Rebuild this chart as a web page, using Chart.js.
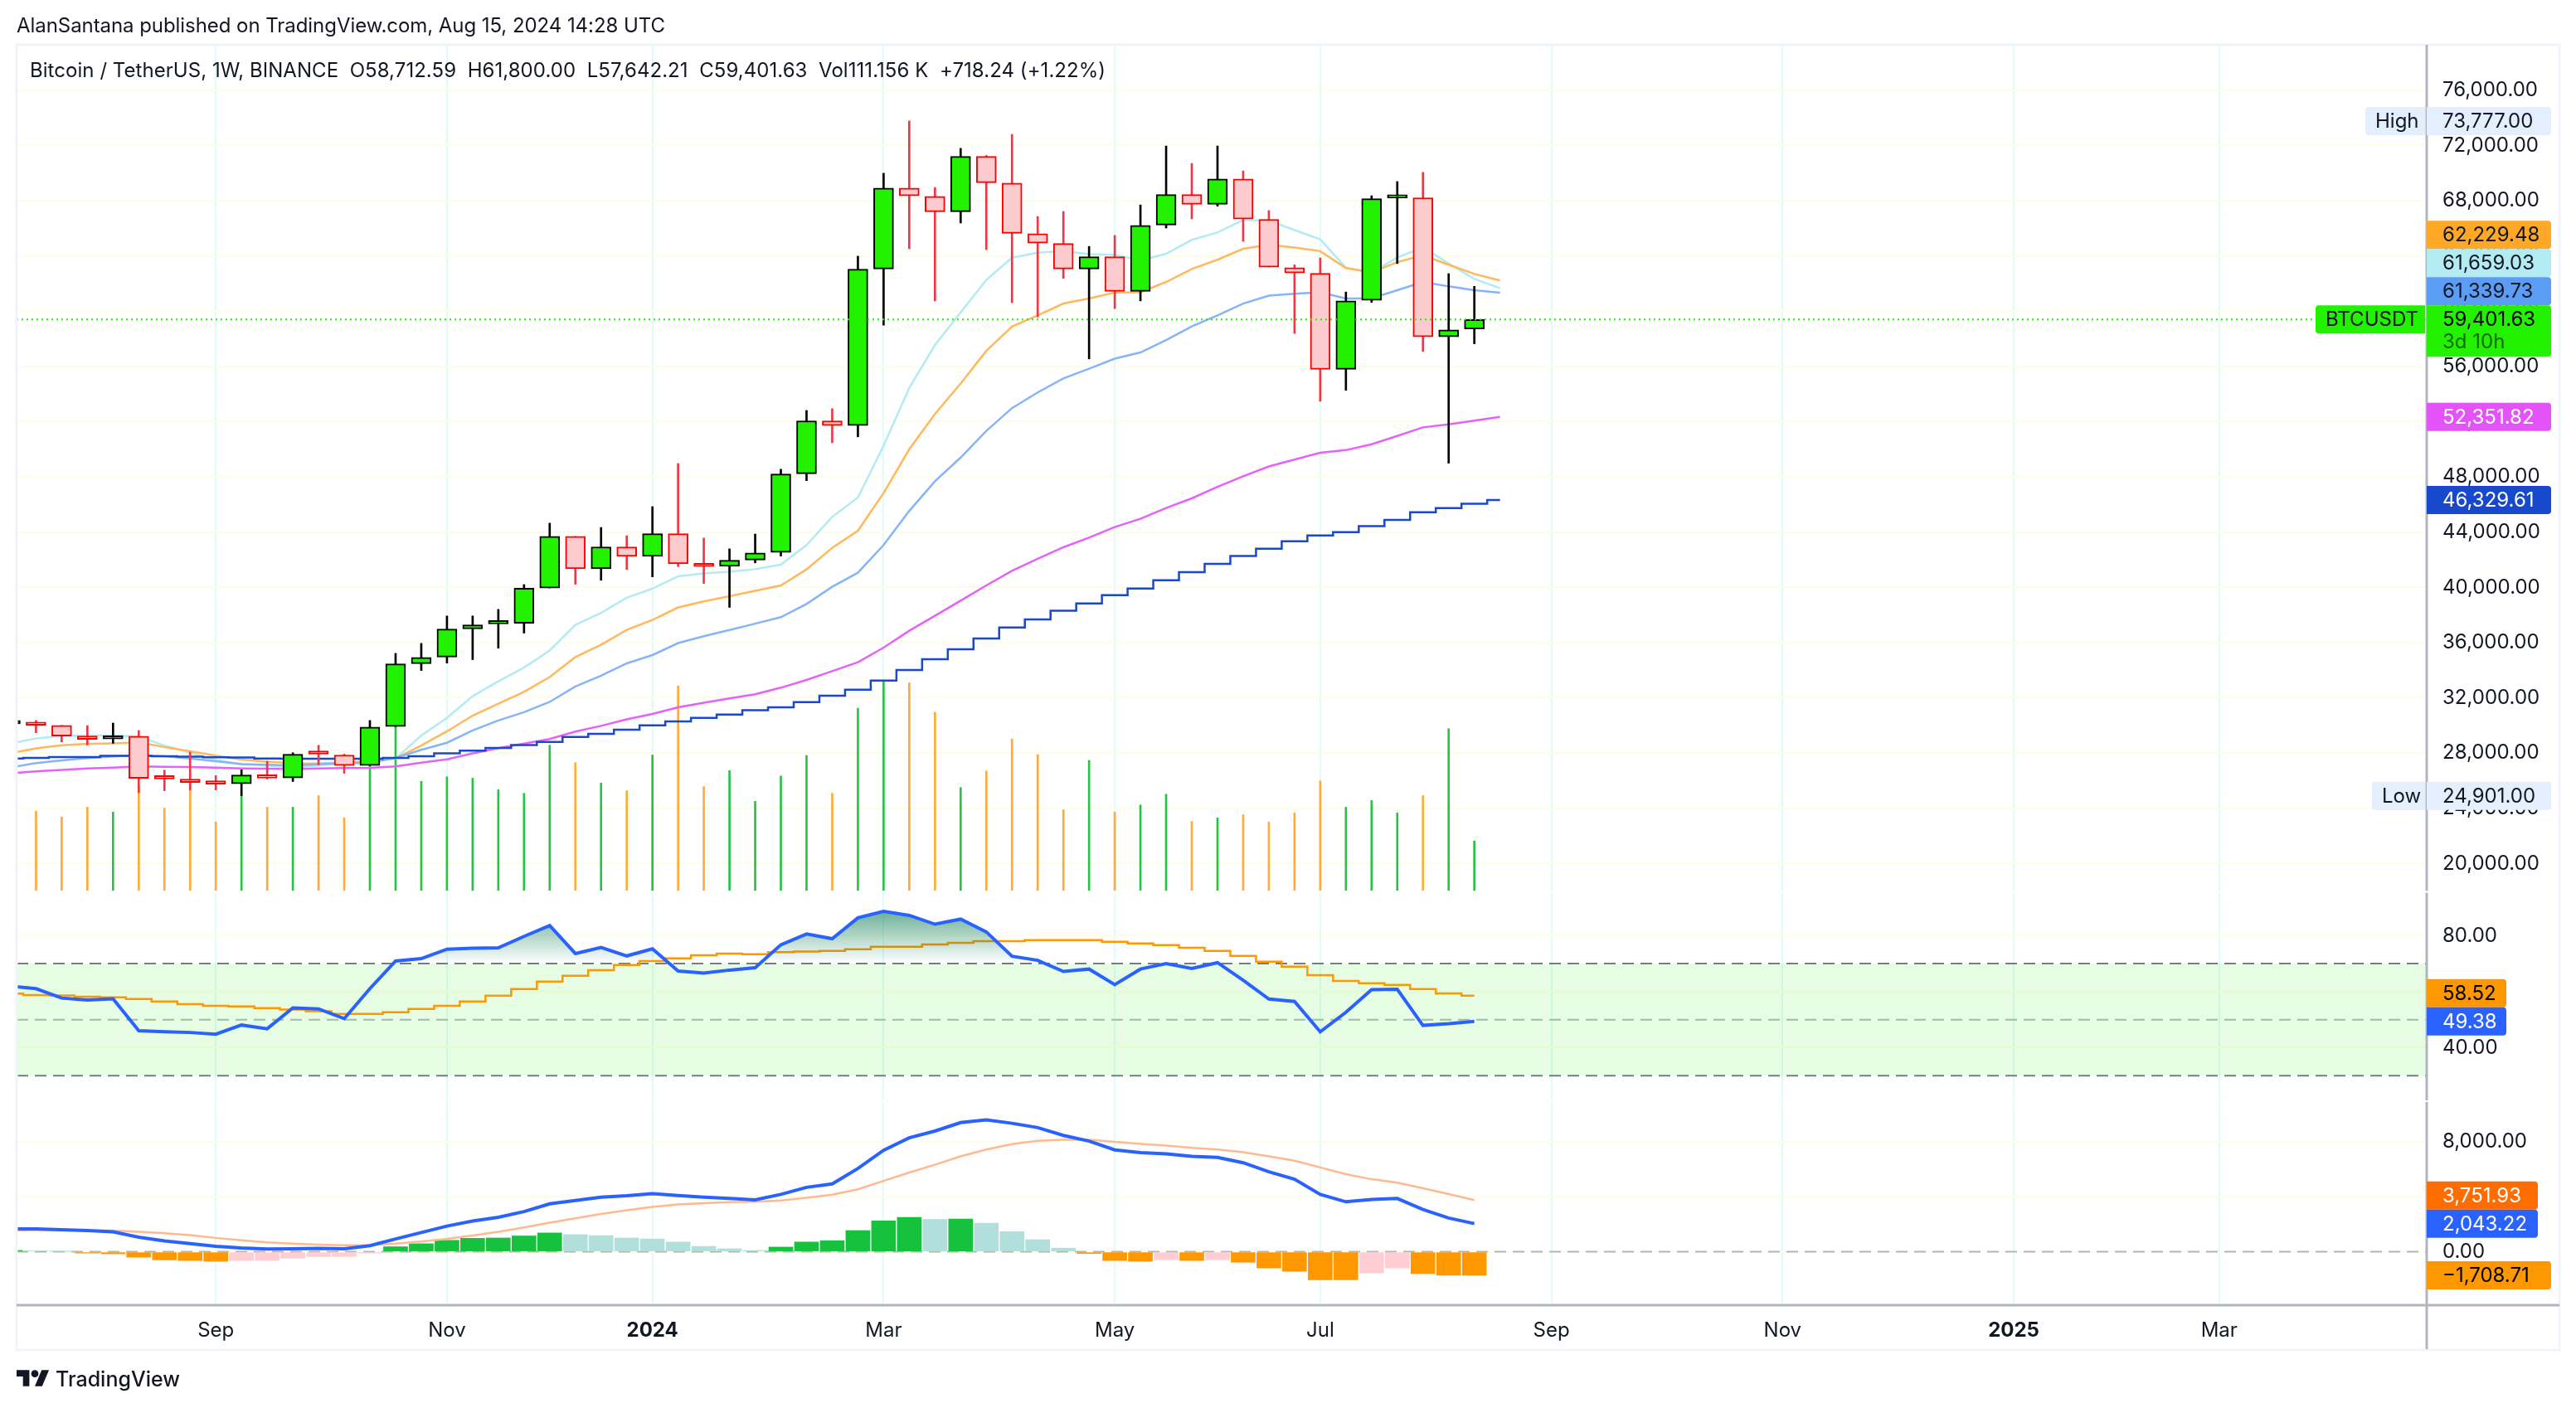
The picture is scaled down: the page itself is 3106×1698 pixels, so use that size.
<!DOCTYPE html>
<html>
<head>
<meta charset="utf-8">
<title>BTCUSDT 1W</title>
<script src="https://cdn.jsdelivr.net/npm/chart.js@4/dist/chart.umd.min.js"></script>
<style>
html, body { margin: 0; padding: 0; background: #ffffff; }
canvas { display: block; }
</style>
</head>
<body>
<canvas id="graph" width="3106" height="1698"></canvas>
<script>
// weekly candles, the first one starts Jul 10 2023 and is cut off by the left edge
var opens = [30120,30150,29999,29199,29013,29220,26180,26035,25910,25766,26407,26200,28000,27855,27090,29923,34472,34948,36995,37350,37388,39953,43696,41338,42930,42248,43882,41690,41524,41979,42537,48220,52060,51717,63063,68919,68319,67203,71214,69284,65616,64908,63063,63943,61433,66238,68447,67740,69584,66645,63149,62741,55791,60790,68190,68212,58151,58712.59];
var highs = [30400,30357,30000,29985,30171,29633,26759,28062,26365,26779,27400,28020,28558,27917,30357,35217,35941,37926,37926,38402,40200,44647,43696,44337,43737,45846,48969,43571,42786,43861,48555,52811,52939,63986,69992,73777,68962,71794,71279,72802,66860,67225,64694,65487,67697,71965,70700,71965,70163,67289,63364,63857,61390,68361,69391,70056,62720,61800];
var lows = [30000,29468,28806,28579,28703,25125,25270,25332,25332,24901,26118,25933,27131,26531,27090,29923,33976,34514,34762,35589,36685,39953,40221,40511,41297,40759,41504,40283,38546,41772,42269,47727,50473,50901,58988,64522,60747,66388,64458,60618,59589,62377,56543,60189,60747,66023,66688,67611,65058,63192,58387,53475,54269,60640,63450,57079,48992,57642.21];
var closes = [30250,30005,29220,28992,29220,26159,26118,25869,25745,26407,26179,27917,27917,27090,29881,34452,34928,36975,37285,37430,39932,43696,41338,42930,42248,43882,41710,41504,41959,42496,48204,52060,51717,63042,68919,68362,67203,71214,69305,65638,64930,63063,63943,61433,66217,68447,67740,69584,66667,63192,62763,55791,60747,68147,68300,58151,58645,59401.63];
var volumes = [160,178,165,187,176,234,185,231,154,212,187,187,213,163,285,378,245,255,252,226,218,326,287,241,224,304,459,233,269,200,257,303,218,409,470,466,400,231,268,340,305,181,292,176,192,216,155,163,170,154,174,246,187,202,174,213,363,111.156];

// moving averages, shifted one bar to the right so they have one more point
var emaCyan = [28682,29054,29220,29261,29261,29199,28537,28020,27503,27193,27089,26945,27089,27296,27400,27607,29261,30543,32115,33190,34183,35424,37285,38153,39249,39911,40800,41007,41131,41317,41640,43062,45104,46505,50258,54441,57551,59910,62270,63879,64243,64350,64136,64093,63664,64157,65166,65702,66603,66560,65873,65208,63149,62806,63879,64629,63449,62334,61659.03];
var emaOrange = [27979,28331,28558,28662,28703,28765,28434,28123,27813,27524,27379,27255,27234,27317,27400,27607,28537,29571,30709,31577,32425,33500,34948,35837,36913,37636,38546,38980,39353,39746,40139,41300,42861,44103,46826,50000,52553,54762,57122,58881,59696,60554,60918,61347,61369,62120,63063,63728,64522,64801,64608,64350,63128,62806,63557,64050,63364,62699,62229.48];
var emaBlue = [26945,27276,27461,27627,27751,27855,27772,27607,27400,27193,27152,27089,27193,27234,27296,27648,28227,28744,29633,30357,30957,31701,32818,33604,34493,35093,35961,36457,36913,37368,37836,38797,40039,41060,43062,45539,47684,49400,51330,52982,54119,55127,55835,56565,57014,57915,58902,59696,60554,61133,61262,61369,60918,60940,61519,62120,61798,61519,61339.73];
var emaPurple = [26531,26676,26780,26883,26945,27027,27007,26986,26945,26883,26862,26841,26883,26904,26924,27027,27296,27544,27979,28351,28682,29013,29550,29964,30439,30832,31308,31639,31949,32259,32731,33292,33932,34573,35634,36855,37937,39038,40139,41200,42061,42902,43602,44363,44963,45744,46445,47276,48048,48756,49250,49743,49936,50365,50966,51588,51802,52081,52351.82];
var maNavy = [27607,27648,27710,27710,27793,27793,27772,27731,27689,27669,27607,27586,27586,27586,27586,27648,27772,27979,28165,28371,28578,28806,29158,29385,29695,30005,30295,30543,30791,31102,31310,31691,32151,32591,33252,34012,34793,35514,36295,37096,37676,38299,38838,39438,39919,40519,41100,41700,42270,42800,43329,43756,43993,44428,44890,45432,45733,46055,46329.61];

var rsiValues = [61.91,61.07,57.70,56.98,57.46,46.02,45.66,45.42,44.82,48.07,46.74,54.21,53.85,50.35,61.07,70.94,71.79,75.16,75.52,75.64,79.73,83.58,73.59,75.76,72.75,75.28,67.33,66.61,67.69,68.53,76.72,80.57,78.89,86.35,88.64,87.20,84.07,85.87,81.30,72.63,71.18,67.21,68.05,62.51,68.05,69.98,68.29,70.34,64.08,57.34,56.49,45.66,52.64,60.71,60.83,47.95,48.55,49.38];
var rsiAverage = [59.26,58.78,58.66,58.18,57.94,57.34,56.49,55.53,54.93,54.69,54.09,53.61,53.00,52.04,52.04,52.64,53.85,54.93,56.49,58.54,60.95,63.60,65.65,67.69,69.50,70.94,71.91,72.99,73.59,73.35,74.07,74.31,74.55,75.16,76.00,76.00,76.84,77.44,78.05,78.05,78.41,78.41,78.41,77.81,77.20,76.60,75.64,74.55,72.75,70.70,68.90,65.89,63.84,63.00,62.39,60.95,59.38,58.52];
var rsiLevels = [70, 50, 30];

var macdLine = [1668,1668,1595,1546,1448,1057,787,592,396,274,200,225,249,225,445,935,1399,1864,2232,2500,2916,3479,3724,3969,4066,4213,4091,3969,3871,3773,4165,4679,4923,6048,7370,8275,8765,9377,9572,9328,9010,8446,8031,7395,7199,7101,6930,6856,6465,5804,5266,4165,3627,3797,3871,3064,2452,2043.22];
var macdSignal = [1546,1571,1571,1546,1546,1448,1350,1204,1008,837,690,592,518,470,470,592,739,935,1179,1448,1766,2109,2427,2745,3014,3259,3430,3528,3602,3626,3724,3920,4140,4532,5143,5755,6318,6930,7419,7811,8055,8129,8129,7982,7835,7713,7541,7419,7223,6930,6612,6122,5633,5266,5021,4605,4189,3751.93];
var macdHist = [98,73,24,-98,-147,-392,-587,-636,-685,-636,-630,-465,-343,-340,-98,367,587,832,978,1003,1150,1370,1248,1175,1003,930,710,392,220,98,343,710,807,1542,2251,2496,2349,2374,2080,1468,881,269,-122,-636,-685,-587,-636,-587,-759,-1175,-1419,-2031,-2035,-1542,-1175,-1590,-1700,-1708.71];

var timeTickWeeks = [8, 17, 25, 34, 43, 51, 60, 69, 78, 86];
var timeTickLabels = ["Sep", "Nov", "2024", "Mar", "May", "Jul", "Sep", "Nov", "2025", "Mar"];
var priceTicks = [20000,24000,28000,32000,36000,40000,44000,48000,52000,56000,60000,64000,68000,72000,76000];
var rsiTicks = [40, 60, 80];
var macdTicks = [0, 4000, 8000];

var priceTagValues = [62229.48, 61659.03, 61339.73, 59401.63, 52351.82, 46329.61];
var rsiTagValues = [58.52, 49.38];
var macdTagValues = [3751.93, 2043.22, -1708.71];
var highValue = 73777;
var lowValue = 24901;

var FONT = "Inter, 'Noto Sans', sans-serif";
var INK = "#131722";
var X_MIN = 0.244;
var X_MAX = 94.08;

function money(v) {
    return v.toLocaleString("en-US", { minimumFractionDigits: 2, maximumFractionDigits: 2 }).replace("-", "\u2212");
}

function points(arr) {
    return arr.map(function (y, x) { return { x: x, y: y }; });
}

function flat(v) {
    return [{ x: X_MIN, y: v }, { x: X_MAX, y: v }];
}

var isUp = closes.map(function (c, i) { return c >= opens[i]; });

var candleBodies = opens.map(function (o, i) { return { x: i, y: [o, closes[i]] }; });
var candleWicks = lows.map(function (l, i) { return { x: i, y: [l, highs[i]] }; });

var histColors = macdHist.map(function (h, i) {
    var rising = i === 0 || h > macdHist[i - 1];
    if (h >= 0) return rising ? "#16c23d" : "#b2dfdb";
    return rising ? "#ffcdd2" : "#ff9800";
});

function lineSet(arr, axis, color, width, order, extra) {
    return Object.assign({
        type: "line", data: points(arr), yAxisID: axis, borderColor: color, borderWidth: width,
        pointRadius: 0, tension: 0, fill: false, order: order
    }, extra || {});
}

function levelSet(v, axis, color, order, extra) {
    return Object.assign({
        type: "line", data: flat(v), yAxisID: axis, borderColor: color, borderWidth: 2,
        borderDash: [14, 8], pointRadius: 0, tension: 0, fill: false, order: order
    }, extra || {});
}

var canvas = document.getElementById("graph");
var rsiGradient = canvas.getContext("2d").createLinearGradient(0, 1098, 0, 1162);
rsiGradient.addColorStop(0, "rgba(15,125,85,0.62)");
rsiGradient.addColorStop(1, "rgba(15,125,85,0)");

// frame, pane separators, header, footer
var framePlugin = {
    id: "frame",
    afterDatasetsDraw: function (chart) {
        var c = chart.ctx;
        var a = chart.chartArea;
        c.save();
        c.strokeStyle = "#f0f3fa";
        c.lineWidth = 3;
        c.strokeRect(20, 54, 3066, 1574);
        c.strokeStyle = "#b2b5be";
        c.lineWidth = 3;
        c.beginPath();
        c.moveTo(a.right, 54); c.lineTo(a.right, 1627);
        c.moveTo(20, a.bottom); c.lineTo(3086, a.bottom);
        c.stroke();
        c.strokeStyle = "#ffffff";
        c.lineWidth = 2;
        c.beginPath();
        c.moveTo(21, 1075.5); c.lineTo(a.right + 2, 1075.5);
        c.moveTo(21, 1328); c.lineTo(a.right + 2, 1328);
        c.stroke();
        c.restore();
    }
};

function drawTag(c, left, right, y, h, color) {
    c.fillStyle = color;
    c.beginPath();
    c.roundRect(left, y - h / 2, right - left, h, [0, 4, 4, 0]);
    c.fill();
}

// pushes a group of labels upward when they would overlap, lowest first
function stackUp(scale, values, h) {
    var ys = values.map(function (v) { return scale.getPixelForValue(v); });
    for (var i = ys.length - 2; i >= 0; i--) {
        if (ys[i] > ys[i + 1] - h) ys[i] = ys[i + 1] - h;
    }
    return ys;
}

var tagPlugin = {
    id: "tags",
    afterDraw: function (chart) {
        var c = chart.ctx;
        var s = chart.scales;
        var x0 = chart.chartArea.right;
        var tx = x0 + 19;
        var h = 34;
        c.save();
        c.textBaseline = "middle";
        c.textAlign = "left";
        c.font = "24px " + FONT;

        function tag(y, right, color, ink, text) {
            drawTag(c, x0, right, y, h, color);
            c.fillStyle = ink;
            c.fillText(text, tx, y + 1);
        }
        function sideTag(y, left, color, text) {
            c.fillStyle = color;
            c.beginPath();
            c.roundRect(left, y - h / 2, x0 - 2 - left, h, [4, 0, 0, 4]);
            c.fill();
            c.fillStyle = "#131722";
            c.fillText(text, left + 12, y + 1);
        }

        var priceColors = ["#ffa726", "#b2ebf2", "#5b9cf6", "#22f200"];
        var priceInks = ["#131722", "#131722", "#131722", "#000000"];
        var top = stackUp(s.yPrice, priceTagValues.slice(0, 4), h);
        for (var i = 0; i < 3; i++) tag(top[i], 3076, priceColors[i], priceInks[i], money(priceTagValues[i]));

        // last price tag has a second row with the countdown
        c.fillStyle = "#22f200";
        c.beginPath();
        c.roundRect(x0, top[3] - h / 2, 150, 62, [0, 4, 4, 0]);
        c.fill();
        c.fillStyle = "#000000";
        c.fillText(money(priceTagValues[3]), tx, top[3] + 1);
        c.fillStyle = "#0b6b00";
        c.fillText("3d 10h", tx, top[3] + 28);
        sideTag(top[3], 2792, "#22f200", "BTCUSDT");

        tag(s.yPrice.getPixelForValue(priceTagValues[4]), 3076, "#e254f8", "#ffffff", money(priceTagValues[4]));
        tag(s.yPrice.getPixelForValue(priceTagValues[5]), 3076, "#1848cc", "#ffffff", money(priceTagValues[5]));

        var hy = s.yPrice.getPixelForValue(highValue);
        var ly = s.yPrice.getPixelForValue(lowValue);
        tag(hy, 3076, "#e3effd", "#131722", money(highValue));
        sideTag(hy, 2852, "#e3effd", "High");
        tag(ly, 3076, "#e3effd", "#131722", money(lowValue));
        sideTag(ly, 2860, "#e3effd", "Low");

        var ry = stackUp(s.yRsi, rsiTagValues, h);
        tag(ry[0], 3022, "#ff9800", "#000000", money(rsiTagValues[0]));
        tag(ry[1], 3022, "#2962ff", "#ffffff", money(rsiTagValues[1]));

        var my = stackUp(s.yMacd, macdTagValues.slice(0, 2), h);
        tag(my[0], 3060, "#ff6d00", "#ffffff", money(macdTagValues[0]));
        tag(my[1], 3060, "#2962ff", "#ffffff", money(macdTagValues[1]));
        tag(s.yMacd.getPixelForValue(macdTagValues[2]), 3076, "#ff9800", "#000000", money(macdTagValues[2]));

        c.fillStyle = INK;
        c.letterSpacing = "-0.06px";
        c.fillText("AlanSantana published on TradingView.com, Aug 15, 2024 14:28 UTC", 20, 32);
        c.letterSpacing = "0.05px";
        c.fillText("Bitcoin / TetherUS, 1W, BINANCE  O58,712.59  H61,800.00  L57,642.21  C59,401.63  Vol111.156 K  +718.24 (+1.22%)", 36, 86);
        c.letterSpacing = "0px";

        c.save();
        c.translate(20, 1648);
        c.scale(1.1, 1.08);
        c.fill(new Path2D("M14 22H7V11H0V4h14v18zM28 22h-8l7.5-18h8L28 22z"));
        c.beginPath();
        c.arc(20, 8, 4, 0, Math.PI * 2);
        c.fill();
        c.restore();
        c.font = "500 25px " + FONT;
        c.fillText("TradingView", 67, 1664);
        c.restore();
    }
};

var valueAxis = function (min, max, tickValues, weight, stackWeight) {
    return {
        type: "linear", position: "right", stack: "panes", weight: weight, stackWeight: stackWeight,
        min: min, max: max, beginAtZero: false,
        grid: { color: "#fffde7", lineWidth: 2, drawTicks: false },
        border: { display: false },
        afterBuildTicks: function (s) {
            s.ticks = tickValues.map(function (v) { return { value: v }; });
        },
        ticks: {
            autoSkip: false, color: INK, padding: 19, crossAlign: "near",
            font: { family: FONT, size: 24 },
            callback: function (v) { return money(v); }
        },
        afterFit: function (s) { s.width = 160; }
    };
};

new Chart(canvas, {
    type: "line",
    data: {
        datasets: [
            lineSet(volumes, "yVol", "#000", 0, 30, {
                type: "bar", data: points(volumes), barThickness: 2, grouped: false, borderWidth: 0,
                backgroundColor: isUp.map(function (u) { return u ? "#26c443" : "#ffab38"; })
            }),
            lineSet(maNavy, "yPrice", "#1848cc", 2.5, 21, { stepped: "middle" }),
            lineSet(emaPurple, "yPrice", "#e461fa", 2.5, 22),
            lineSet(emaBlue, "yPrice", "#86b4f8", 2.5, 23),
            lineSet(emaCyan, "yPrice", "#b2ebf2", 2.5, 24),
            lineSet(emaOrange, "yPrice", "#ffb85c", 2.5, 23.5),
            lineSet(lows, "yPrice", "#000", 0, 12, {
                type: "bar", data: candleWicks, barThickness: 2, grouped: false, borderWidth: 0,
                backgroundColor: isUp.map(function (u) { return u ? "#000000" : "#f23645"; })
            }),
            lineSet(opens, "yPrice", "#000", 2, 11, {
                type: "bar", data: candleBodies, barThickness: 24, grouped: false, minBarLength: 4,
                borderWidth: 2, borderSkipped: false,
                backgroundColor: isUp.map(function (u) { return u ? "#22f200" : "#fccbcd"; }),
                borderColor: isUp.map(function (u) { return u ? "#000000" : "#ff0000"; })
            }),
            {
                type: "line", data: flat(closes[closes.length - 1]), yAxisID: "yPrice", borderColor: "#22f200",
                borderWidth: 2, borderDash: [2, 4], pointRadius: 0, fill: false, order: 5
            },

            levelSet(rsiLevels[0], "yRsi", "#787b86", 18, { fill: "+2", backgroundColor: "rgba(30,235,10,0.11)" }),
            levelSet(rsiLevels[1], "yRsi", "#b2b5be", 18),
            levelSet(rsiLevels[2], "yRsi", "#787b86", 18),
            lineSet(rsiAverage, "yRsi", "#ff9800", 2.5, 16, { stepped: "middle" }),
            lineSet(rsiValues, "yRsi", "#2962ff", 4, 15, {
                fill: { target: { value: rsiLevels[0] }, above: rsiGradient, below: "rgba(0,0,0,0)" }
            }),

            levelSet(0, "yMacd", "#b2b5be", 18),
            lineSet(macdHist, "yMacd", "#000", 0, 17, {
                type: "bar", data: points(macdHist), barThickness: 29, grouped: false, borderWidth: 0,
                backgroundColor: histColors
            }),
            lineSet(macdSignal, "yMacd", "#ffb98f", 2.5, 16),
            lineSet(macdLine, "yMacd", "#2962ff", 4, 15)
        ]
    },
    options: {
        responsive: false,
        animation: false,
        events: [],
        devicePixelRatio: 1,
        layout: { padding: { left: 20, top: 54, right: 20, bottom: 70 } },
        plugins: { legend: { display: false }, tooltip: { enabled: false } },
        scales: {
            x: {
                type: "linear", min: X_MIN, max: X_MAX, offset: false,
                grid: { color: "#e0fbfa", lineWidth: 2, drawTicks: false, offset: false },
                border: { display: false },
                afterBuildTicks: function (s) {
                    s.ticks = timeTickWeeks.map(function (w) { return { value: w }; });
                },
                ticks: {
                    autoSkip: false, maxRotation: 0, color: INK, padding: 16,
                    font: function (ctx) {
                        var label = timeTickLabels[ctx.index] || "";
                        return { family: FONT, size: 24, weight: /^\d/.test(label) ? "700" : "400" };
                    },
                    callback: function (v, i) { return timeTickLabels[i]; }
                },
                afterFit: function (s) { s.height = 54; }
            },
            yPrice: valueAxis(18036, 79297, priceTicks, 0, 1020),
            yRsi: valueAxis(20.89, 96.07, rsiTicks, 1, 254),
            yMacd: valueAxis(-3874, 10929, macdTicks, 2, 246),
            // volume overlay shares the price pane, zero sits on that pane's bottom edge
            yVol: { type: "linear", position: "right", display: false, weight: -1, min: -930, max: 1897 }
        }
    },
    plugins: [framePlugin, tagPlugin]
});
</script>
</body>
</html>
